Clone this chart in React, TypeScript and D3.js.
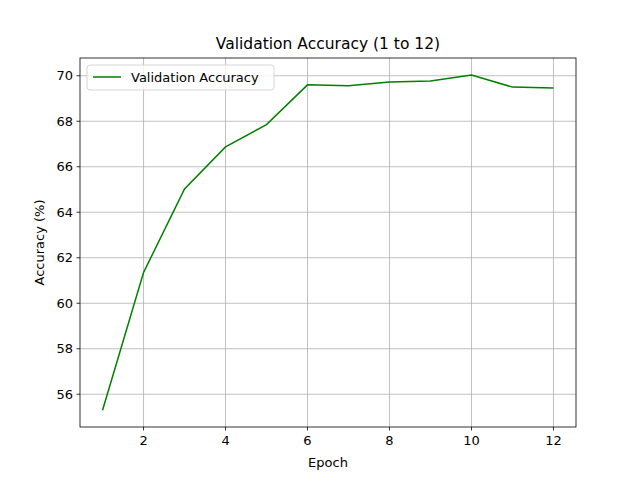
import * as React from "react";
import * as d3 from "d3";

const epochs = [1, 2, 3, 4, 5, 6, 7, 8, 9, 10, 11, 12];
const accuracy = [55.3, 61.35, 65.02, 66.87, 67.85, 69.6, 69.56, 69.72, 69.77, 70.03, 69.5, 69.46];
const xTicks = [2, 4, 6, 8, 10, 12];
const yTicks = [56, 58, 60, 62, 64, 66, 68, 70];

const W = 640;
const H = 480;
const m = { left: 80, right: 576, top: 58, bottom: 427 };
const font = "DejaVu Sans, sans-serif";

const App: React.FC = () => {
    const x = d3.scaleLinear().domain([0.45, 12.55]).range([m.left, m.right]);
    const y = d3.scaleLinear().domain([54.56, 70.78]).range([m.bottom, m.top]);
    const line = d3.line<number>()
        .x((_, i) => x(epochs[i]))
        .y(d => y(d));

    return (
        <svg width={W} height={H} style={{ position: "absolute", left: 0, top: 0, background: "#fff" }} fontFamily={font}>
            {xTicks.map(t => (
                <g key={"x" + t}>
                    <line x1={x(t)} x2={x(t)} y1={m.top} y2={m.bottom} stroke="#b0b0b0" strokeWidth={0.8} />
                    <line x1={x(t)} x2={x(t)} y1={m.bottom} y2={m.bottom + 3.5} stroke="#000" strokeWidth={0.8} />
                    <text x={x(t)} y={m.bottom + 18} fontSize={13} textAnchor="middle">{t}</text>
                </g>
            ))}
            {yTicks.map(t => (
                <g key={"y" + t}>
                    <line x1={m.left} x2={m.right} y1={y(t)} y2={y(t)} stroke="#b0b0b0" strokeWidth={0.8} />
                    <line x1={m.left - 3.5} x2={m.left} y1={y(t)} y2={y(t)} stroke="#000" strokeWidth={0.8} />
                    <text x={m.left - 7} y={y(t)} dy="0.35em" fontSize={13} textAnchor="end">{t}</text>
                </g>
            ))}
            <path d={line(accuracy) ?? ""} fill="none" stroke="green" strokeWidth={1.5} />
            <rect x={m.left} y={m.top} width={m.right - m.left} height={m.bottom - m.top} fill="none" stroke="#000" strokeWidth={0.8} />
            <text x={(m.left + m.right) / 2} y={49} fontSize={15.5} textAnchor="middle">Validation Accuracy (1 to 12)</text>
            <text x={(m.left + m.right) / 2} y={467} fontSize={13} textAnchor="middle">Epoch</text>
            <text transform={`translate(44,${(m.top + m.bottom) / 2}) rotate(-90)`} fontSize={13} textAnchor="middle">Accuracy (%)</text>
            <g>
                <rect x={87} y={65} width={187} height={25} rx={3} fill="#fff" fillOpacity={0.8} stroke="#ccc" strokeWidth={0.8} />
                <line x1={93} x2={121} y1={77} y2={77} stroke="green" strokeWidth={1.5} />
                <text x={131} y={77} dy="0.35em" fontSize={13}>Validation Accuracy</text>
            </g>
        </svg>
    );
};

export default App;
